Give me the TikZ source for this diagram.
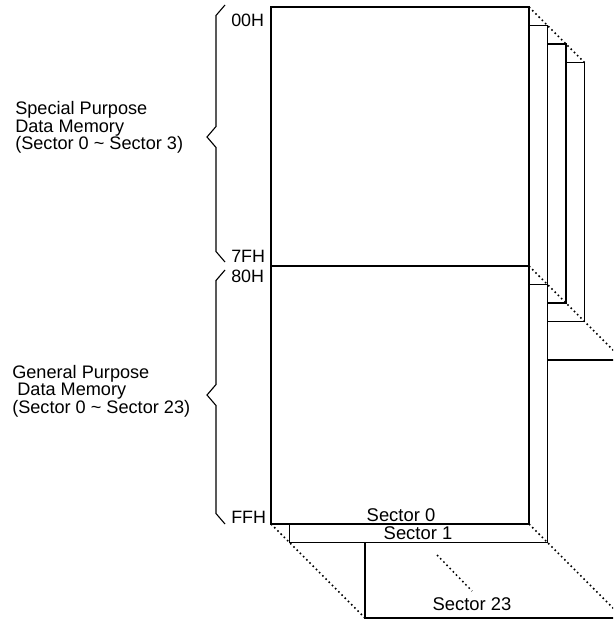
\documentclass[tikz,border=0pt]{standalone}
\usepackage{fontspec}
\setmainfont{Liberation Sans}
\begin{document}
\begin{tikzpicture}[x=0.75pt,y=-0.75pt,
  edge/.style={line width=0.85pt, line join=miter},
  page/.style={edge, fill=white},
  guide/.style={line width=1.1pt, dash pattern=on 1.2pt off 2.2pt},
  lbl/.style={inner sep=0pt, anchor=base west, text height=0.72em, text depth=0pt, font=\fontsize{13.4}{15}\selectfont},
  slbl/.style={lbl, anchor=base, font=\fontsize{13.8}{15}\selectfont},
  side/.style={inner sep=0pt, anchor=base west, text height=0.72em, text depth=0pt, font=\fontsize{13.6}{15}\selectfont}]
\fill[white] (0,0) rectangle (613,620);
\useasboundingbox (0,0) rectangle (613,620);
\begin{scope}
\clip (0,0) rectangle (613,620);
% sector 23 (last, deepest)
\draw[page] (365,360) rectangle (623,618);
% special purpose pages 3, 2, 1
\draw[page] (326.5,62.5) rectangle (584.5,321.5);
\draw[page] (308,44) rectangle (566,303);
\draw[page] (289.5,25.5) rectangle (547.5,284.5);
% general purpose sector 1
\draw[page] (289.5,284.5) rectangle (547.5,542.5);
% front (sector 0)
\draw[page] (271,7) rectangle (529,524);
\draw[edge] (271,266) -- (529,266);
% depth guides
\draw[guide] (529,7) -- (584.5,62.5);
\draw[guide] (529,266) -- (623,360);
\draw[guide] (529,524) -- (623,618);
\draw[guide] (271,524) -- (365,618);
\draw[guide] (437,555) -- (472,591);
\end{scope}
% braces
\draw[edge] (225,5) -- (216,15.5) -- (216,126.5) -- (207,137) -- (216,147.5) -- (216,251.5) -- (225,262);
\draw[edge] (225,270) -- (216,280.5) -- (216,384.5) -- (207,395) -- (216,405.5) -- (216,513.5) -- (225,524);
% address labels
\node[lbl] (h00) at (231,27) {00H};
\node[lbl] (h7f) at (231,262) {7FH};
\node[lbl] (h80) at (231,282) {80H};
\node[lbl] (hff) at (231,523) {FFH};
% sector labels
\node[slbl] (s0) at (401,521) {Sector 0};
\node[slbl] (s1) at (418,539) {Sector 1};
\node[slbl] (s23) at (472,610) {Sector 23};
% side texts
\node[side] (sp1) at (15,115) {Special Purpose};
\node[side] (sp2) at (15,132.5) {Data Memory};
\node[side] (sp3) at (15,150) {(Sector 0 \textasciitilde{} Sector 3)};
\node[side] (gp1) at (12,378) {General Purpose};
\node[side] (gp2) at (12,395.5) {\hspace*{0.28em}Data Memory};
\node[side] (gp3) at (12,413) {(Sector 0 \textasciitilde{} Sector 23)};
\end{tikzpicture}
\end{document}
